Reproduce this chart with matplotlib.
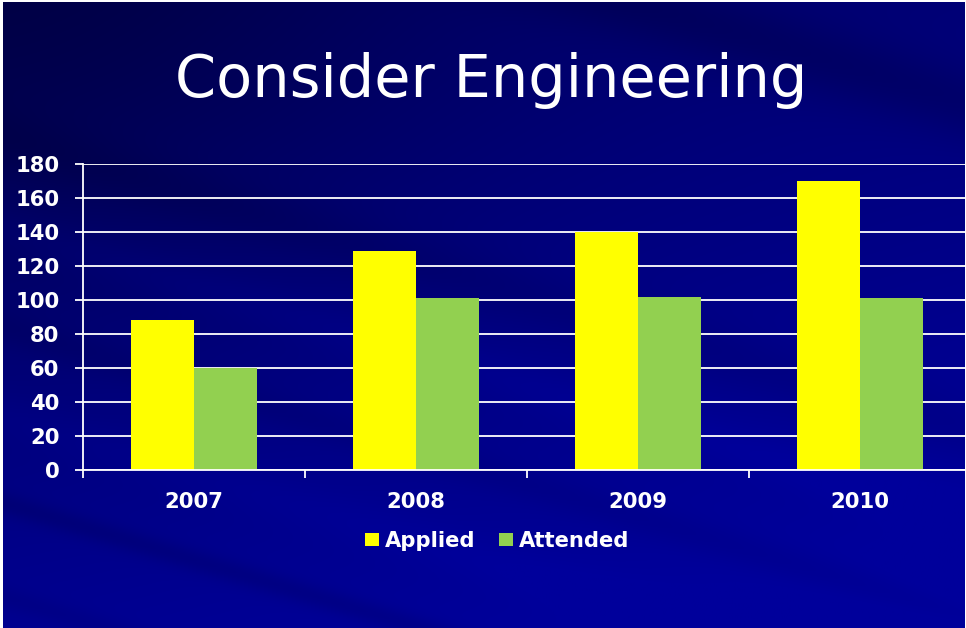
import numpy as np
import matplotlib
matplotlib.use("Agg")
import matplotlib.pyplot as plt
from matplotlib.patches import Patch
from matplotlib.font_manager import FontProperties

# ---- data ----
years = ["2007", "2008", "2009", "2010"]
applied = [88, 129, 140, 170]
attended = [60, 101, 102, 101]
yticks = [0, 20, 40, 60, 80, 100, 120, 140, 160, 180]
title = "Consider Engineering"
series_names = ["Applied", "Attended"]

W, H = 966, 628
fig = plt.figure(figsize=(W / 100, H / 100), dpi=100, facecolor="white")

# ---- background (decorative gradient with diagonal streaks) ----
bg = fig.add_axes([3 / W, 0, (W - 4) / W, (H - 2) / H])
bg.set_axis_off()
yy, xx = np.mgrid[0:H, 0:W]
u = xx / W
v = yy / H
blue = 100 + 45 * v + 18 * u
blue -= 30 * np.exp(-((u / 0.45) ** 2 + (v / 0.55) ** 2))
d = v - 0.46 * u
bands = [(0.22, 0.05, -10), (0.36, 0.04, 8), (0.52, 0.03, -8),
         (0.66, 0.04, 6), (0.80, 0.02, -14), (-0.30, 0.06, -18),
         (0.95, 0.02, -8)]
for c, w, a in bands:
    blue = blue + a * np.exp(-((d - c) / w) ** 2)
blue = np.clip(blue, 70, 155)
img = np.zeros((H, W, 3))
img[..., 2] = blue / 255.0
bg.imshow(img, aspect="auto", extent=[0, 1, 0, 1], origin="upper")

# ---- chart ----
left_px, right_px, top_px, bot_px = 83, 971, 164, 470
ax = fig.add_axes([left_px / W, 1 - bot_px / H, (right_px - left_px) / W,
                   (bot_px - top_px) / H])
ax.patch.set_alpha(0)

x = np.arange(len(years))
bw = 0.286
ax.bar(x - bw / 2, applied, width=bw, color="#FFFF00", zorder=3,
       label=series_names[0])
ax.bar(x + bw / 2, attended, width=bw, color="#92D050", zorder=3,
       label=series_names[1])

ax.set_xlim(-0.5, len(years) - 0.5)
ax.set_ylim(0, 180)
ax.set_yticks(yticks)
ax.set_yticklabels([str(t) for t in yticks])
ax.yaxis.grid(True, color="white", linewidth=1.3, zorder=1)
ax.set_axisbelow(True)

for s in ["top", "right"]:
    ax.spines[s].set_visible(False)
for s in ["left", "bottom"]:
    ax.spines[s].set_color("white")
    ax.spines[s].set_linewidth(1.3)
    ax.spines[s].set_zorder(4)

tick_font = dict(family="DejaVu Sans", weight="bold", size=15.2)
ax.tick_params(axis="y", colors="white", length=6, width=1.3, pad=11)
for lab in ax.get_yticklabels():
    lab.set_fontproperties(FontProperties(**tick_font))
    lab.set_color("white")

ax.set_xticks(x)
ax.set_xticklabels(years)
ax.set_xticks(np.arange(len(years) + 1) - 0.5, minor=True)
ax.tick_params(axis="x", which="major", length=0, pad=16, colors="white")
ax.tick_params(axis="x", which="minor", length=6, width=1.3, colors="white",
               direction="out")
for lab in ax.get_xticklabels():
    lab.set_fontproperties(FontProperties(**tick_font))
    lab.set_color("white")

# ---- title ----
fig.text(491 / W, 1 - 97 / H, title, ha="center", va="baseline",
         color="white", family="DejaVu Sans", size=42.5)

# ---- legend ----
handles = [Patch(facecolor="#FFFF00", edgecolor="none"),
           Patch(facecolor="#92D050", edgecolor="none")]
leg = fig.legend(handles, series_names, loc="center",
                 bbox_to_anchor=(497 / W, 1 - 541 / H), ncol=2, frameon=False,
                 prop=FontProperties(**tick_font),
                 handlelength=0.66, handleheight=0.56, handletextpad=0.3,
                 columnspacing=1.1, borderpad=0, borderaxespad=0)
for t in leg.get_texts():
    t.set_color("white")

fig.savefig("out.png", dpi=100, facecolor="white")
